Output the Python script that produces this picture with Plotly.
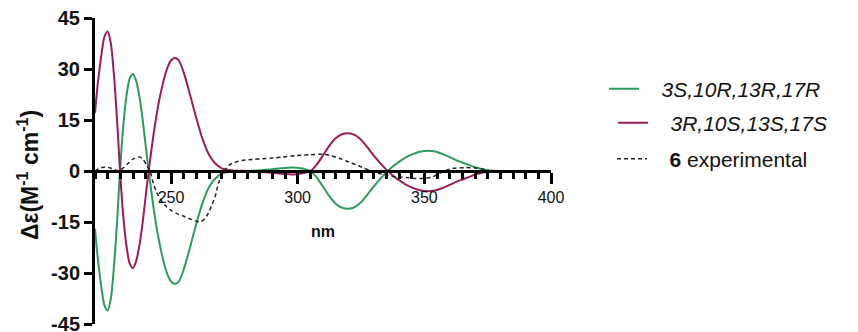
import plotly.graph_objects as go

# Wavelength grid (nm) for the two calculated ECD spectra
wl_calc = [220, 221, 222.5, 223.75, 225, 226.25, 227.5, 228.75, 230, 231.25, 232.5, 233.75,
           235, 236.25, 237.5, 238.75, 240, 241.25, 242.5, 243.75, 245, 246.25, 247.5,
           248.75, 250, 251.5, 253, 255, 257.5, 260, 262.5, 265, 267.5, 270, 272.5, 275,
           280, 285, 290, 295, 298, 301, 303.5, 305, 307.5, 310, 312.5, 315, 317.5, 320,
           322.5, 325, 327.5, 330, 332.5, 335, 337.5, 340, 342.5, 345, 347.5, 350, 352.5,
           355, 357.5, 360, 362.5, 365, 367.5, 370, 372.5, 375, 377.5, 380, 385, 390, 400]

# Calculated Δε for 3S,10R,13R,17R
de_3s = [-17, -25, -34, -39.5, -41, -37.5, -28, -14.5, 1.5, 14, 22.5, 27.3,
         28.5, 26.5, 22, 15.5, 7.5, -0.3, -7.5, -14, -19.5, -24, -27.8,
         -30.7, -32.5, -33.2, -32.6, -29, -22.5, -15.5, -9.3, -4.8, -2.2, -0.8, -0.3, -0.1,
         0, 0.2, 0.55, 0.9, 1.0, 0.8, 0.4, 0, -1.9, -4.6, -7.4, -9.6, -10.8, -11.1,
         -10.6, -9.2, -7.0, -4.6, -2.4, -0.4, 1.3, 2.7, 3.9, 4.8, 5.5, 5.85, 5.9,
         5.6, 4.9, 4.1, 3.2, 2.5, 1.8, 1.1, 0.6, 0.25, 0.1, 0.03, 0, 0, 0]

# Calculated Δε for 3R,10S,13S,17S (enantiomer)
de_3r = [17, 25, 34, 39.5, 41, 37.5, 28, 14.5, -1.5, -14, -22.5, -27.3,
         -28.5, -26.5, -22, -15.5, -7.5, 0.3, 7.5, 14, 19.5, 24, 27.8,
         30.7, 32.5, 33.2, 32.6, 29, 22.5, 15.5, 9.3, 4.8, 2.2, 0.8, 0.3, 0.1,
         0, -0.2, -0.55, -0.9, -1.0, -0.8, -0.4, 0, 1.9, 4.6, 7.4, 9.6, 10.8, 11.1,
         10.6, 9.2, 7.0, 4.6, 2.4, 0.4, -1.3, -2.7, -3.9, -4.8, -5.5, -5.85, -5.9,
         -5.6, -4.9, -4.1, -3.2, -2.5, -1.8, -1.1, -0.6, -0.25, -0.1, -0.03, 0, 0, 0]

# Experimental ECD spectrum of compound 6
wl_exp = [220, 222, 224, 226, 228, 229.5, 231, 233, 235, 237.5, 239, 240.5, 241.7, 243,
          244.3, 246, 248, 250, 252.5, 255, 257.5, 260, 261, 262.5, 264.7, 266, 267.4,
          268.7, 270, 271.5, 273, 275, 278, 282, 286, 290, 294, 299, 305, 310, 313, 317,
          320, 323.5, 326, 329, 332, 335, 339, 343, 346.5, 350, 353, 355, 357, 359, 361,
          366, 370, 373, 375.5, 378, 380]
de_exp = [0, 0.8, 1.2, 0.9, 0.3, 0.1, 0.8, 2.2, 3.5, 4.1, 3.4, 1.5, 0, -3.5,
          -6.2, -8.5, -10.3, -11.6, -12.6, -13.3, -14.1, -14.8, -15, -14.6, -12.5, -10.2, -7.6,
          -3.7, -1.2, 0.5, 1.8, 2.5, 3.1, 3.4, 3.6, 3.8, 4.1, 4.5, 4.8, 4.9, 4.5, 3.6,
          2.7, 1.7, 0.9, 0, -0.7, -1.3, -1.7, -1.9, -2.2, -2.1, -1.8, -1.1, -0.3, 0.3, 0.7,
          1.0, 0.9, 0.6, 0.1, 0, 0]

x_ticks = [250, 300, 350, 400]
y_ticks = [-45, -30, -15, 0, 15, 30, 45]

GREEN = "#2f9a5e"
MAGENTA = "#9b1c5b"
FONT = "Liberation Sans, Arial, Helvetica, sans-serif"
GAP = "\u00a0\u00a0\u00a0"  # extra room between legend sample and its label

fig = go.Figure()
fig.add_trace(go.Scatter(x=wl_calc, y=de_3s, mode="lines", name=GAP + "<i>3S,10R,13R,17R</i>",
                         line=dict(color=GREEN, width=2, shape="spline", smoothing=0.8),
                         legend="legend"))
fig.add_trace(go.Scatter(x=wl_calc, y=de_3r, mode="lines", name=GAP + "<i>3R,10S,13S,17S</i>",
                         line=dict(color=MAGENTA, width=2, shape="spline", smoothing=0.8),
                         legend="legend2"))
fig.add_trace(go.Scatter(x=wl_exp, y=de_exp, mode="lines", name=GAP + "<b>6</b> experimental",
                         line=dict(color="#222222", width=1.5, dash="4px,3px",
                                   shape="spline", smoothing=0.8),
                         legend="legend3"))

W, H = 858, 332
L, R, T, B = 95, 307, 18, 8
plot_w = W - L - R
plot_h = H - T - B


def legend_at(px, py):
    return dict(x=px / W, y=1 - py / H, xref="container", yref="container",
                xanchor="left", yanchor="middle", bgcolor="rgba(0,0,0,0)",
                font=dict(family=FONT, size=21, color="#111111"), itemwidth=30)


fig.update_layout(
    width=W, height=H,
    margin=dict(l=L, r=R, t=T, b=B, autoexpand=False),
    paper_bgcolor="white", plot_bgcolor="white",
    showlegend=True,
    legend=legend_at(604, 89),
    legend2=legend_at(613, 123),
    legend3=legend_at(612, 159),
    xaxis=dict(
        range=[220, 400], anchor="free", position=0.5, automargin=False,
        showline=True, linecolor="black", linewidth=3,
        showgrid=False, zeroline=False,
        tickmode="array", tickvals=x_ticks, ticktext=[str(v) for v in x_ticks],
        ticks="outside", ticklen=11, tickwidth=3, tickcolor="black",
        tickfont=dict(family=FONT, size=16, color="#111111"),
        minor=dict(dtick=5, tick0=220, ticks="outside", ticklen=6, tickwidth=2.5,
                   tickcolor="black", showgrid=False),
    ),
    yaxis=dict(
        range=[-45, 45], automargin=False,
        showline=True, linecolor="black", linewidth=3,
        showgrid=False, zeroline=False, ticklabeloverflow="allow",
        tickmode="array", tickvals=y_ticks, ticktext=[str(v) for v in y_ticks],
        ticks="outside", ticklen=8, tickwidth=3, tickcolor="black",
        tickfont=dict(family=FONT, size=20, color="#111111", weight="bold"),
    ),
    annotations=[
        dict(text="<b>nm</b>", x=310, y=-17.7, xref="x", yref="y", showarrow=False,
             font=dict(family=FONT, size=16, color="#111111")),
        dict(text="<b>Δε(M<sup>-1</sup> cm<sup>-1</sup>)</b>",
             x=(28 - L) / plot_w, y=(H - B - 175) / plot_h,
             xref="paper", yref="paper", xanchor="center", yanchor="middle",
             showarrow=False, textangle=-90,
             font=dict(family=FONT, size=23, color="#111111")),
    ],
)

fig.write_html("out.html")
